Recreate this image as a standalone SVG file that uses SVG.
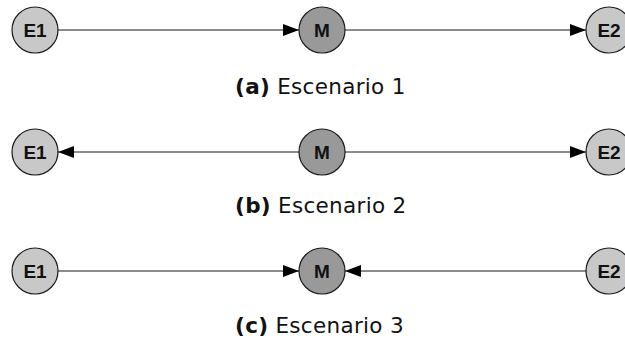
<svg xmlns="http://www.w3.org/2000/svg" width="625" height="343" viewBox="0 0 625 343">
<style>
.e{fill:#c8c8c8;stroke:#1a1a1a;stroke-width:1.2}
.m{fill:#999999;stroke:#1a1a1a;stroke-width:1.2}
.lbl{font-family:"Liberation Sans",Arial,sans-serif;font-weight:bold;font-size:19px;text-anchor:middle;fill:#111}
.cap{font-family:"DejaVu Sans","Liberation Sans",sans-serif;font-size:21.5px;letter-spacing:0.3px;fill:#111}
.cap .b{font-weight:bold}
.c{stroke:#1a1a1a;stroke-width:1.2;fill:none}
</style>
<defs>
<marker id="ah" markerWidth="16" markerHeight="12" refX="16" refY="6" orient="auto" markerUnits="userSpaceOnUse">
<path d="M0,0 L16,6 L0,12 Z" fill="#000"/>
</marker>
</defs>
<g id="connectors">
<line class="c" x1="58" y1="30" x2="299" y2="30" marker-end="url(#ah)"/>
<line class="c" x1="345" y1="30" x2="586" y2="30" marker-end="url(#ah)"/>
<line class="c" x1="299" y1="152" x2="58" y2="152" marker-end="url(#ah)"/>
<line class="c" x1="345" y1="152" x2="586" y2="152" marker-end="url(#ah)"/>
<line class="c" x1="58" y1="271" x2="299" y2="271" marker-end="url(#ah)"/>
<line class="c" x1="586" y1="271" x2="345" y2="271" marker-end="url(#ah)"/>
</g>
<g id="E1a"><circle class="e" cx="35" cy="30" r="23"/><text class="lbl" x="35" y="37">E1</text></g>
<g id="Ma"><circle class="m" cx="322" cy="30" r="23"/><text class="lbl" x="322" y="37">M</text></g>
<g id="E2a"><circle class="e" cx="609" cy="30" r="23"/><text class="lbl" x="609" y="37">E2</text></g>
<g id="E1b"><circle class="e" cx="35" cy="152" r="23"/><text class="lbl" x="35" y="159">E1</text></g>
<g id="Mb"><circle class="m" cx="322" cy="152" r="23"/><text class="lbl" x="322" y="159">M</text></g>
<g id="E2b"><circle class="e" cx="609" cy="152" r="23"/><text class="lbl" x="609" y="159">E2</text></g>
<g id="E1c"><circle class="e" cx="35" cy="271" r="23"/><text class="lbl" x="35" y="278">E1</text></g>
<g id="Mc"><circle class="m" cx="322" cy="271" r="23"/><text class="lbl" x="322" y="278">M</text></g>
<g id="E2c"><circle class="e" cx="609" cy="271" r="23"/><text class="lbl" x="609" y="278">E2</text></g>
<g id="captions">
<text class="cap" x="235" y="94"><tspan class="b">(a)</tspan> Escenario 1</text>
<text class="cap" x="235" y="213"><tspan class="b">(b)</tspan> Escenario 2</text>
<text class="cap" x="235" y="333"><tspan class="b">(c)</tspan> Escenario 3</text>
</g>
</svg>
